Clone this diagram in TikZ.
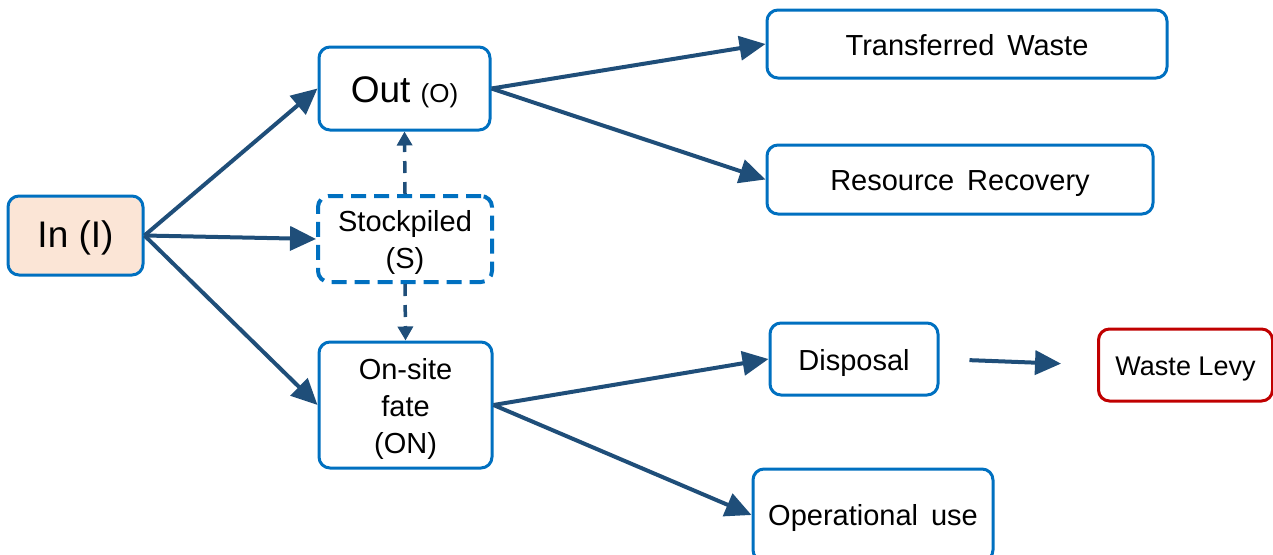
\documentclass[tikz,border=0pt]{standalone}
\usepackage{fontspec}
\setmainfont{Liberation Sans}
\usetikzlibrary{arrows.meta}
\definecolor{boxblue}{HTML}{0070C0}
\definecolor{arrblue}{HTML}{1F4E79}
\definecolor{peach}{HTML}{FBE5D6}
\definecolor{levyred}{HTML}{C00000}
\newcommand{\dn}[1]{\raisebox{-4pt}[\height][\depth]{\begin{tabular}{@{}c@{}}#1\end{tabular}}}
\tikzset{
  box/.style={draw=boxblue, line width=3pt, rounded corners=11pt, align=center, inner sep=0pt, fill=white},
  flow/.style={draw=arrblue, line width=4pt, -{Triangle[length=26pt,width=24pt]}},
  dflow/.style={draw=arrblue, line width=3.5pt, dash pattern=on 12pt off 9pt, -{Triangle[length=14pt,width=15pt]}},
  fA/.style={font=\fontsize{37}{42}\selectfont},
  fB/.style={font=\fontsize{29}{37}\selectfont},
  fC/.style={font=\fontsize{27}{32}\selectfont},
}
\begin{document}
\begin{tikzpicture}[x=1pt,y=-1pt]
\useasboundingbox (0,0) rectangle (1273,554);
\clip (0,0) rectangle (1273,554);
\node[box, fill=peach, minimum width=135pt, minimum height=79pt, fA] (in) at (75.5,235.5) {\dn{In (I)}};
\node[box, minimum width=171pt, minimum height=83pt] (out) at (404.5,88.5) {\dn{\fontsize{37}{42}\selectfont Out \fontsize{26}{30}\selectfont(O)}};
\node[box, draw=boxblue, line width=4pt, dash pattern=on 15pt off 8pt, minimum width=174pt, minimum height=86pt, fB] (st) at (405,239) {\dn{Stockpiled\\(S)}};
\node[box, minimum width=173pt, minimum height=126pt, fB] (on) at (405.5,405) {\dn{On-site\\fate\\(ON)}};
\node[box, minimum width=400pt, minimum height=68pt, fB] (tw) at (967,44) {\dn{Transferred\, Waste}};
\node[box, minimum width=386pt, minimum height=69pt, fB] (rr) at (960,179.5) {\dn{Resource\, Recovery}};
\node[box, minimum width=168pt, minimum height=72pt, fB] (dis) at (854,359) {\dn{Disposal}};
\node[box, draw=levyred, minimum width=174pt, minimum height=72pt, fC] (wl) at (1185.5,365) {\dn{Waste Levy}};
\node[box, minimum width=240pt, minimum height=92pt, fB, text depth=0pt] (op) at (873,515) {Operational\, use};
\draw[flow] (in.east) -- (out.west);
\draw[flow] (in.east) -- (st.west);
\draw[flow] (in.east) -- (on.west);
\draw[flow] (out.east) -- (tw.west);
\draw[flow] (out.east) -- (rr.west);
\draw[flow] (on.east) -- (dis.west);
\draw[flow] (on.east) -- (op.west);
\draw[flow, shorten <=30pt, shorten >=36pt] (dis.east) -- (wl.west);
\draw[dflow] (st.north) -- (out.south);
\draw[dflow] (st.south) -- (on.north);
\end{tikzpicture}
\end{document}
